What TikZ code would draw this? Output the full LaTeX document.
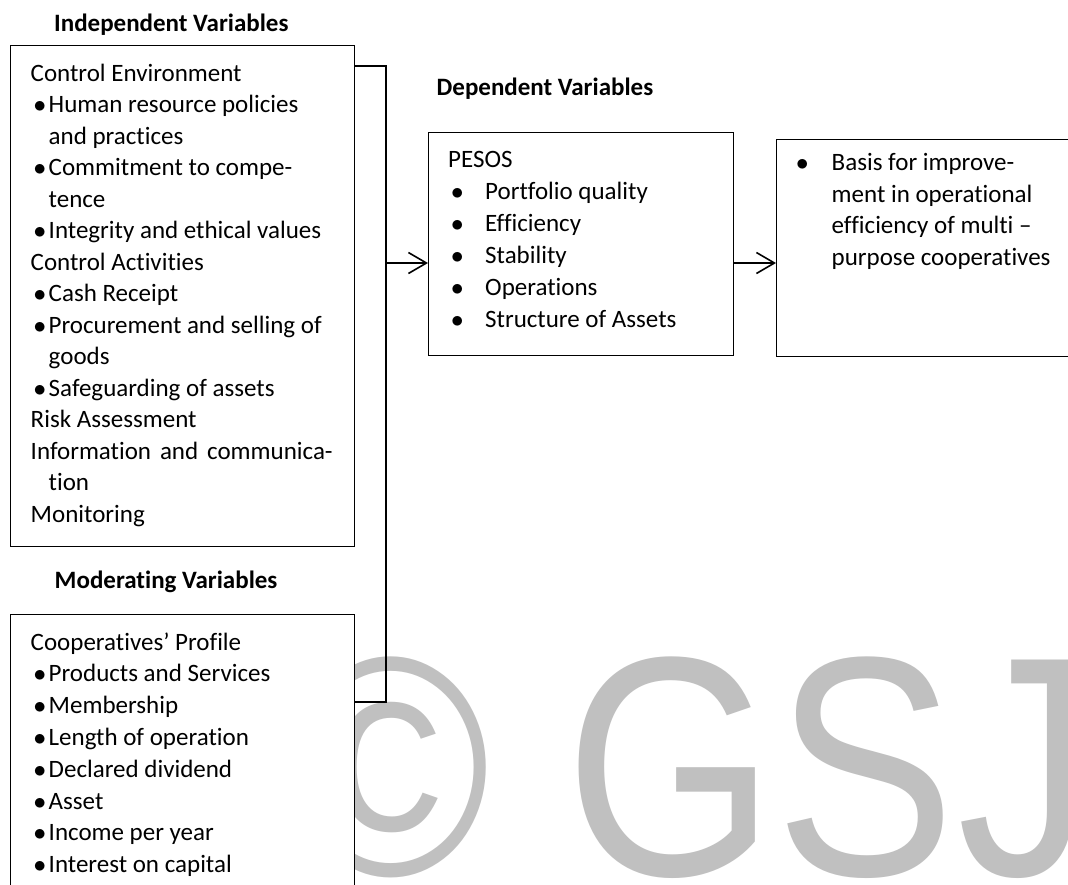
\documentclass[tikz,border=0pt]{standalone}
\usepackage{fontspec}
\setmainfont{Carlito}[Ligatures=NoCommon]
\newfontfamily\markfont{Liberation Sans}
\usepackage{graphicx}
\usetikzlibrary{arrows.meta}
\definecolor{markgray}{RGB}{192,192,192}
\tikzset{
  box/.style={draw=black, line width=1.4pt, fill=white, anchor=north west, inner sep=0pt},
  txt/.style={anchor=base west, inner sep=0pt, font=\fontsize{25}{31.6}\selectfont},
  head/.style={anchor=base west, inner sep=0pt, font=\fontsize{25}{30}\selectfont\bfseries},
  wm/.style={anchor=base west, inner sep=0pt, text=markgray, font=\markfont\fontsize{270}{270}\selectfont},
  link/.style={line width=1.4pt},
  flow/.style={line width=1.6pt, -{Straight Barb[length=18pt,width=21pt]}}
}
% bullet followed by the hanging indent of an item
\newcommand\bl[1]{\makebox[#1][l]{\hspace*{3pt}$\bullet$}}
\newcommand\wide[1]{\scalebox{1}[1.16]{#1}}
\begin{document}
\begin{tikzpicture}[x=1pt,y=-1pt]
\useasboundingbox (0,0) rectangle (1068,884);
\fill[white] (0,0) rectangle (1068,884);
\clip (0,0) rectangle (1068,884);

% watermark
\node[wm] (wc) at (291,875) {\wide{©}};
\node[wm] (wg) at (565,875) {\wide{G}};
\node[wm] (ws) at (775,875) {\wide{S}};
\node[wm] (wj) at (957,875) {\wide{J}};

% boxes
\node[box, minimum width=344pt, minimum height=501pt] (ind) at (10,45) {};
\node[box, minimum width=344pt, minimum height=320pt] (mod) at (10,614) {};
\node[box, minimum width=304.5pt, minimum height=223pt] (pesos) at (428,132) {};
\node[box, minimum width=330pt, minimum height=217pt] (res) at (776,139) {};

% headings
\node[head] (hind) at (54,31) {Independent Variables};
\node[head] (hmod) at (54.5,588) {Moderating Variables};
\node[head] (hdep) at (436.5,95) {Dependent Variables};

% box contents
\node[txt] (indtext) at (30.5,81) {\begin{minipage}[t]{330pt}\baselineskip=31.5pt
Control Environment\\
\bl{18pt}Human resource policies\\
\hspace*{18pt}and practices\\
\bl{18pt}Commitment to compe-\\
\hspace*{18pt}tence\\
\bl{18pt}Integrity and ethical values\\
Control Activities\\
\bl{18pt}Cash Receipt\\
\bl{18pt}Procurement and selling of\\
\hspace*{18pt}goods\\
\bl{18pt}Safeguarding of assets\\
Risk Assessment\\
\makebox[302pt][s]{Information and communica-}\\
\hspace*{18pt}tion\\
Monitoring
\end{minipage}};

\node[txt] (modtext) at (30.5,650) {\begin{minipage}[t]{330pt}\baselineskip=31.8pt
Cooperatives’ Profile\\
\bl{18pt}Products and Services\\
\bl{18pt}Membership\\
\bl{18pt}Length of operation\\
\bl{18pt}Declared dividend\\
\bl{18pt}Asset\\
\bl{18pt}Income per year\\
\bl{18pt}Interest on capital
\end{minipage}};

\node[txt] (pesostext) at (448,167.3) {\begin{minipage}[t]{280pt}\baselineskip=32pt
PESOS\\
\bl{37pt}Portfolio quality\\
\bl{37pt}Efficiency\\
\bl{37pt}Stability\\
\bl{37pt}Operations\\
\bl{37pt}Structure of Assets
\end{minipage}};

\node[txt] (restext) at (792.8,170.4) {\begin{minipage}[t]{260pt}\baselineskip=31.7pt
\bl{38.7pt}Basis for improve-\\
\hspace*{38.7pt}ment in operational\\
\hspace*{38.7pt}efficiency of multi –\\
\hspace*{38.7pt}purpose cooperatives
\end{minipage}};

% connectors
\coordinate (jt) at (386,66);
\coordinate (jb) at (386,702);
\coordinate (fork) at (386,263);
\draw[link] (ind.east |- jt) -- (jt) -- (jb) -- (mod.east |- jb);
\draw[flow] (fork) -- (fork -| pesos.west);
\draw[flow] (pesos.east |- fork) -- (fork -| res.west);
\end{tikzpicture}
\end{document}
